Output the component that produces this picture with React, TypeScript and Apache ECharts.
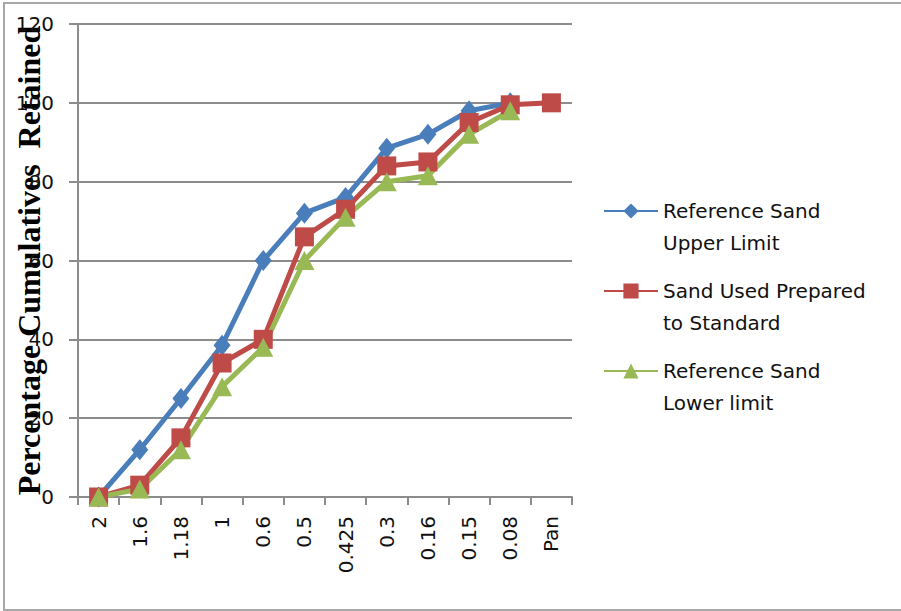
import React, { useEffect, useRef } from "react";
import * as echarts from "echarts";

// Sieve sizes (mm) from coarse to fine, then the pan
const sieveSizes = ["2", "1.6", "1.18", "1", "0.6", "0.5", "0.425", "0.3", "0.16", "0.15", "0.08", "Pan"];

// Cumulative percentage retained on each sieve
const upperLimit = [0, 12, 25, 38.5, 60, 72, 76, 88.5, 92, 98, 100, null];
const sandUsed = [0, 3, 15, 34, 40, 66, 73, 84, 85, 95, 99.5, 100];
const lowerLimit = [0, 2, 12, 28, 38, 60, 71, 80, 81.5, 92, 98, null];

const seriesNames = [
  "Reference Sand\nUpper Limit",
  "Sand Used Prepared\nto Standard",
  "Reference Sand\nLower limit",
];

const Y_MIN = 0;
const Y_MAX = 120;
const Y_STEP = 20;

const LABEL_FONT = "'DejaVu Sans', sans-serif";
const GRID_COLOR = "#8c8c8c";

export default function App() {
  const ref = useRef<HTMLDivElement>(null);

  useEffect(() => {
    if (!ref.current) return;
    const chart = echarts.init(ref.current, undefined, { renderer: "svg" });

    const lineSeries = (name: string, data: (number | null)[], color: string, symbol: string, size: any) => ({
      name,
      type: "line",
      data,
      connectNulls: false,
      symbol,
      symbolSize: size,
      itemStyle: { color },
      lineStyle: { color, width: 5 },
    });

    chart.setOption({
      animation: false,
      backgroundColor: "#ffffff",
      graphic: [
        {
          type: "rect",
          shape: { x: 4, y: 3, width: 900, height: 607 },
          style: { fill: "none", stroke: "#a8a8a8", lineWidth: 2 },
          silent: true,
        },
      ],
      grid: {
        left: 78,
        right: 329,
        top: 24,
        bottom: 114,
        containLabel: false,
        outerBoundsMode: "none",
      },
      legend: {
        orient: "vertical",
        left: 603,
        top: 163,
        padding: 0,
        itemWidth: 54,
        itemHeight: 19,
        itemGap: -16,
        data: seriesNames,
        // a leading empty line keeps the first text line level with the icon
        formatter: (name: string) => "\n" + name,
        textStyle: {
          fontFamily: LABEL_FONT,
          fontSize: 20,
          color: "#111111",
          lineHeight: 32,
        },
      },
      xAxis: {
        type: "category",
        data: sieveSizes,
        boundaryGap: true,
        axisLine: { lineStyle: { color: GRID_COLOR, width: 2 } },
        axisTick: { show: true, length: 8, lineStyle: { color: GRID_COLOR, width: 2 } },
        axisLabel: {
          rotate: 90,
          margin: 19,
          fontFamily: LABEL_FONT,
          fontSize: 20,
          color: "#111111",
        },
      },
      yAxis: {
        type: "value",
        min: Y_MIN,
        max: Y_MAX,
        interval: Y_STEP,
        name: "Percentage Cumulatives  Retained",
        nameLocation: "middle",
        nameRotate: 90,
        nameGap: 33,
        nameMoveOverlap: false,
        nameTextStyle: {
          fontFamily: "'Liberation Serif', serif",
          fontWeight: "bold",
          fontSize: 32,
          color: "#000000",
        },
        axisLine: { show: true, lineStyle: { color: GRID_COLOR, width: 2 } },
        axisTick: { show: true, length: 9, lineStyle: { color: GRID_COLOR, width: 2 } },
        splitLine: { show: true, lineStyle: { color: GRID_COLOR, width: 2 } },
        axisLabel: {
          margin: 24,
          fontFamily: LABEL_FONT,
          fontSize: 20,
          color: "#111111",
        },
      },
      series: [
        lineSeries(seriesNames[0], upperLimit, "#4a7ebb", "diamond", [17, 21]),
        lineSeries(seriesNames[1], sandUsed, "#be4b48", "rect", 19),
        lineSeries(seriesNames[2], lowerLimit, "#98b954", "triangle", [20, 19]),
      ],
    });

    return () => chart.dispose();
  }, []);

  return (
    <div
      ref={ref}
      style={{ position: "fixed", left: 0, top: 0, width: 901, height: 611, background: "#ffffff" }}
    />
  );
}
